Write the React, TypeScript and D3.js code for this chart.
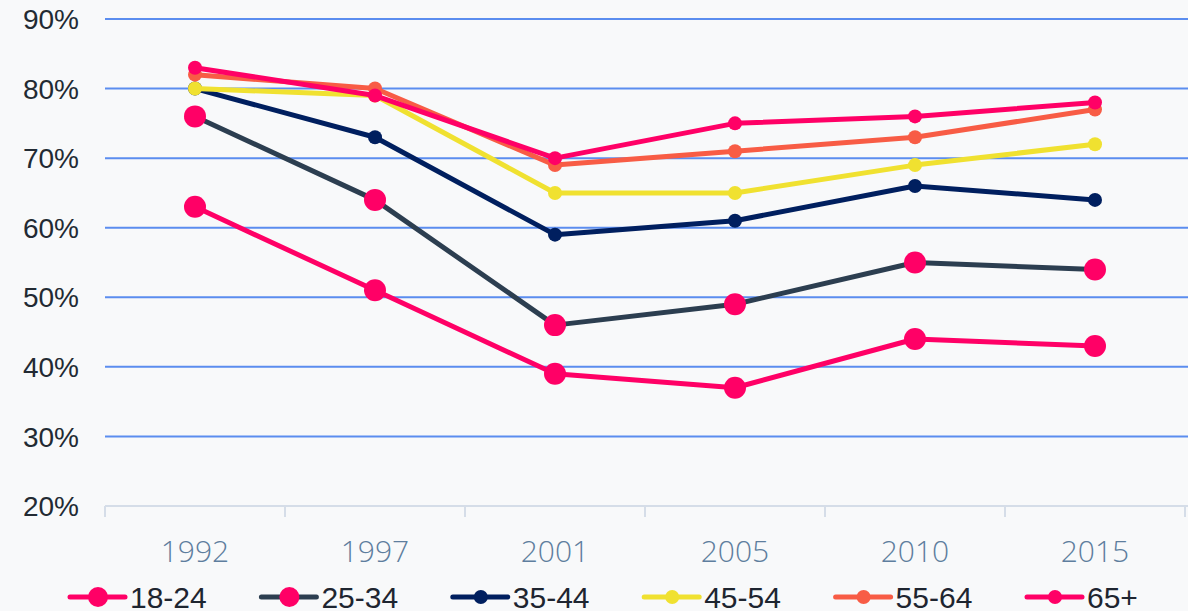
import React from "react";
import * as d3 from "d3";

const years = ["1992", "1997", "2001", "2005", "2010", "2015"];
const seriesNames = ["18-24", "25-34", "35-44", "45-54", "55-64", "65+"];
const v1824 = [63, 51, 39, 37, 44, 43];
const v2534 = [76, 64, 46, 49, 55, 54];
const v3544 = [80, 73, 59, 61, 66, 64];
const v4554 = [80, 79, 65, 65, 69, 72];
const v5564 = [82, 80, 69, 71, 73, 77];
const v65 = [83, 79, 70, 75, 76, 78];
const yTicks = [20, 30, 40, 50, 60, 70, 80, 90];

const lineColors = ["#ff0066", "#2c3e50", "#001f5f", "#f0e130", "#f85c45", "#ff0066"];
const markerColors = ["#ff0066", "#ff0066", "#001f5f", "#f0e130", "#f85c45", "#ff0066"];
const markerR = [11, 11, 7, 7, 7, 7];

export default function App() {
  const W = 1188, H = 611;
  const x = d3.scaleBand().domain(years).range([105, 1185]);
  const y = d3.scaleLinear().domain([20, 90]).range([506, 19]);
  const allVals = [v1824, v2534, v3544, v4554, v5564, v65];
  const line = d3.line<number>().x((_, i) => (x(years[i]) as number) + x.bandwidth() / 2).y((d) => y(d));
  const boundaries = d3.range(years.length + 1).map((i) => 105 + i * x.bandwidth());
  return (
    <svg width={W} height={H} style={{ position: "absolute", left: 0, top: 0, background: "#f8f9fa" }}>
      <rect x={0} y={0} width={W} height={H} fill="#f8f9fa" />
      {yTicks.map((t) => (
        <g key={t}>
          {t > 20 && <line x1={105} x2={W} y1={y(t)} y2={y(t)} stroke="#5b8def" strokeWidth={2} />}
          <text x={79} y={y(t)} dy="0.36em" textAnchor="end" fontFamily="Liberation Sans, Arial, sans-serif" fontSize={28} fill="#222a33">
            {t}%
          </text>
        </g>
      ))}
      <line x1={105} x2={W} y1={y(20)} y2={y(20)} stroke="#d5dde8" strokeWidth={2} />
      {boundaries.map((b, i) => (
        <line key={i} x1={b} x2={b} y1={y(20)} y2={y(20) + 11} stroke="#d5dde8" strokeWidth={2} />
      ))}
      {years.map((yr) => (
        <text key={yr} x={(x(yr) as number) + x.bandwidth() / 2} y={562} textAnchor="middle" fontFamily="Open Sans, Noto Sans, sans-serif" fontSize={30} fill="#5e7e9e" fontWeight={300}>
          {yr}
        </text>
      ))}
      {allVals.map((vals, si) => (
        <g key={si}>
          <path d={line(vals) as string} fill="none" stroke={lineColors[si]} strokeWidth={5} strokeLinejoin="round" />
          {vals.map((v, i) => (
            <circle key={i} cx={(x(years[i]) as number) + x.bandwidth() / 2} cy={y(v)} r={markerR[si]} fill={markerColors[si]} />
          ))}
        </g>
      ))}
      {seriesNames.map((name, si) => {
        const lx = 70 + si * 191.4;
        return (
          <g key={name}>
            <line x1={lx} x2={lx + 55} y1={597} y2={597} stroke={lineColors[si]} strokeWidth={5} strokeLinecap="round" />
            <circle cx={lx + 28} cy={597} r={markerR[si] === 11 ? 10 : 7} fill={markerColors[si]} />
            <text x={lx + 60} y={597} dy="0.38em" fontFamily="Liberation Sans, Arial, sans-serif" fontSize={30} fill="#1e2530">
              {name}
            </text>
          </g>
        );
      })}
    </svg>
  );
}
